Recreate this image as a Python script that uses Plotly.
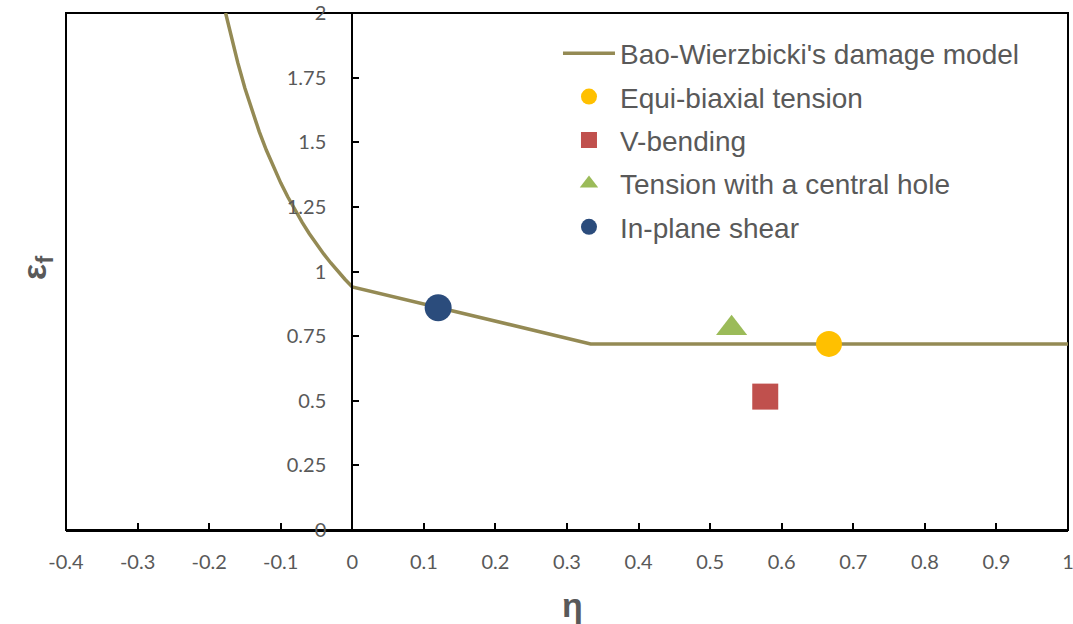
import plotly.graph_objects as go

# Bao-Wierzbicki fracture locus (stress triaxiality vs. fracture strain)
model_eta = [-0.177, -0.17, -0.16, -0.15, -0.14, -0.13, -0.12, -0.11, -0.10,
             -0.09, -0.08, -0.07, -0.06, -0.05, -0.04, -0.03, -0.02, -0.01,
             0.0, 0.333, 1.0]
model_eps = [2.00, 1.918, 1.808, 1.709, 1.62, 1.541, 1.469, 1.403, 1.343,
             1.288, 1.237, 1.19, 1.146, 1.106, 1.068, 1.033, 1.0, 0.969,
             0.94, 0.72, 0.72]

# Experimental points
equi_eta, equi_eps = [0.666], [0.72]
vbend_eta, vbend_eps = [0.577], [0.516]
hole_eta, hole_eps = [0.53], [0.78]
shear_eta, shear_eps = [0.12], [0.86]

x_ticks = [-0.4, -0.3, -0.2, -0.1, 0, 0.1, 0.2, 0.3, 0.4, 0.5, 0.6, 0.7, 0.8, 0.9, 1.0]
x_tick_text = ["-0.4", "-0.3", "-0.2", "-0.1", "0", "0.1", "0.2", "0.3", "0.4",
               "0.5", "0.6", "0.7", "0.8", "0.9", "1"]
y_ticks = [0, 0.25, 0.5, 0.75, 1, 1.25, 1.5, 1.75, 2]
y_tick_text = ["0", "0.25", "0.5", "0.75", "1", "1.25", "1.5", "1.75", "2"]

GREY = "#595959"

fig = go.Figure()
fig.add_trace(go.Scatter(
    x=model_eta, y=model_eps, mode="lines",
    name="Bao-Wierzbicki's damage model",
    line=dict(color="#948A54", width=3.5), legendgroup="a"))
fig.add_trace(go.Scatter(
    x=equi_eta, y=equi_eps, mode="markers", name="Equi-biaxial tension",
    marker=dict(symbol="circle", size=26, color="#FFC000"), legendgroup="b"))
fig.add_trace(go.Scatter(
    x=vbend_eta, y=vbend_eps, mode="markers", name="V-bending",
    marker=dict(symbol="square", size=26, color="#C0504D"), legendgroup="c"))
fig.add_trace(go.Scatter(
    x=hole_eta, y=hole_eps, mode="markers", name="Tension with a central hole",
    marker=dict(symbol="triangle-up", size=27, color="#9BBB59"), legendgroup="d"))
fig.add_trace(go.Scatter(
    x=shear_eta, y=shear_eps, mode="markers", name="In-plane shear",
    marker=dict(symbol="circle", size=27, color="#2B4C7C"), legendgroup="e"))

x_min, x_max = -0.4, 1.0
zero_pos = (0 - x_min) / (x_max - x_min)

fig.update_layout(
    width=1073, height=624,
    margin=dict(l=66, r=5, t=13, b=94),
    paper_bgcolor="white", plot_bgcolor="white",
    font=dict(family="Liberation Sans, Arial", color=GREY),
    xaxis=dict(
        range=[x_min, x_max], tickvals=x_ticks, ticktext=x_tick_text,
        showgrid=False, zeroline=False, showline=True, linecolor="black",
        linewidth=2, ticks="inside", ticklen=7, tickwidth=2, tickcolor="black",
        tickfont=dict(family="Lato, Open Sans", size=20, color=GREY),
        ticklabelstandoff=13, anchor="y", automargin=False,
        ticklabeloverflow="allow"),
    yaxis=dict(
        range=[0, 2], tickvals=y_ticks, ticktext=y_tick_text,
        showgrid=False, zeroline=False, showline=True, linecolor="black",
        linewidth=2, ticks="inside", ticklen=6, tickwidth=2, tickcolor="black",
        tickfont=dict(family="Lato, Open Sans", size=20, color=GREY),
        anchor="free", position=zero_pos, ticklabelstandoff=21, automargin=False,
        ticklabeloverflow="allow"),
    legend=dict(
        x=0.491, y=0.970, xanchor="left", yanchor="top",
        bgcolor="rgba(255,255,255,0)", borderwidth=0,
        font=dict(family="Liberation Sans, Arial", size=28, color=GREY),
        tracegroupgap=4, itemwidth=52),
    showlegend=True,
)

# Frame around the plotting area
fig.add_shape(type="rect", xref="paper", yref="paper", x0=0, y0=0, x1=1, y1=1,
              line=dict(color="black", width=2), layer="below")

# Axis titles
fig.add_annotation(text="<b>η</b>", xref="paper", yref="paper",
                   x=(572 - 66) / 1002, y=-(605 - 530) / 517,
                   xanchor="center", yanchor="middle", showarrow=False,
                   font=dict(family="Liberation Sans, Arial", size=34, color=GREY))
fig.add_annotation(text="<b>ε<sub>f</sub></b>", xref="paper", yref="paper",
                   x=-(66 - 36) / 1002, y=(530 - 268) / 517,
                   xanchor="center", yanchor="middle", showarrow=False, textangle=-90,
                   font=dict(family="Liberation Sans, Arial", size=34, color=GREY))

fig.write_html("out.html")
